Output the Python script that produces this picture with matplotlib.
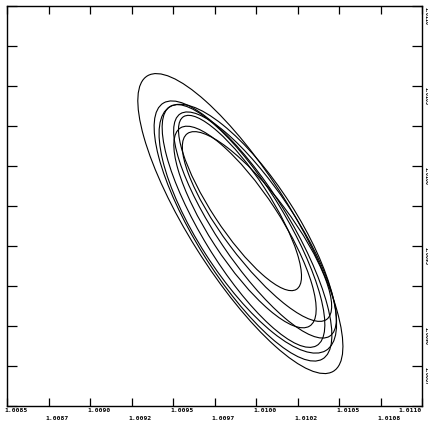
import matplotlib
matplotlib.use("Agg")
import matplotlib.pyplot as plt
from matplotlib.patches import Ellipse

# axis ticks / labels
x_ticks = [1.0085, 1.00875, 1.0090, 1.00925, 1.0095, 1.00975, 1.0100, 1.01025, 1.0105, 1.01075, 1.0110]
x_labels = ["1.0085", "1.0087", "1.0090", "1.0092", "1.0095", "1.0097", "1.0100", "1.0102", "1.0105", "1.0108", "1.0110"]
y_ticks = [1.0085, 1.00875, 1.0090, 1.00925, 1.0095, 1.00975, 1.0100, 1.01025, 1.0105, 1.01075, 1.0110]
y_label_ticks = [1.0110, 1.0105, 1.0100, 1.0095, 1.0090, 1.00875]
y_labels = ["1.0110", "1.0105", "1.0100", "1.0095", "1.0090", "1.0087"]

# loops of the trajectory (centre x, centre y, full width, full height, tilt in degrees)
loop_cx = [1.0099050, 1.0099028, 1.0099209, 1.0099239, 1.0099932, 1.0099330, 1.0100053, 1.0099500]
loop_cy = [1.0096420, 1.0097706, 1.0095956, 1.0096269, 1.0096331, 1.0096206, 1.0096237, 1.0096100]
loop_w = [0.002160, 0.001276, 0.001865, 0.001736, 0.001656, 0.001463, 0.001433, 0.001790]
loop_h = [0.000615, 0.000350, 0.000560, 0.000500, 0.000466, 0.000429, 0.000405, 0.000600]
loop_ang = [-58.8, -57.8, -59.1, -59.5, -57.1, -57.9, -54.2, -58.3]

fig = plt.figure(figsize=(4.28, 4.21), dpi=100)
W, H = 428, 421
L, R, T, B = 7.3, 422.0, 6.3, 406.3
ax = fig.add_axes([L / W, (H - B) / H, (R - L) / W, (B - T) / H])
ax.set_xlim(1.0085, 1.0110)
ax.set_ylim(1.0085, 1.0110)

for cx, cy, w, h, a in zip(loop_cx, loop_cy, loop_w, loop_h, loop_ang):
    ax.add_patch(Ellipse((cx, cy), w, h, angle=a, fill=False,
                         edgecolor="black", linewidth=0.8))

ax.set_xticks(x_ticks)
ax.set_yticks(y_ticks)
ax.set_xticklabels([])
ax.set_yticklabels([])
ax.tick_params(axis="x", direction="in", length=5.8, width=0.9, top=True, bottom=True)
ax.tick_params(axis="y", direction="in", length=7.0, width=0.9, left=True, right=True)
for s in ax.spines.values():
    s.set_linewidth(1.0)

lab_kw = dict(fontsize=4.6, family="DejaVu Sans Mono", fontweight="bold", color="black")
for i, (t, lab) in enumerate(zip(x_ticks, x_labels)):
    dy = -1.4 if i % 2 == 0 else -7.0
    if i == len(x_ticks) - 1:
        ax.annotate(lab, xy=(t, 0), xycoords=("data", "axes fraction"),
                    xytext=(0, dy), textcoords="offset points",
                    ha="right", va="top", **lab_kw)
    else:
        ax.annotate(lab, xy=(t, 0), xycoords=("data", "axes fraction"),
                    xytext=(-2.2, dy), textcoords="offset points",
                    ha="left", va="top", **lab_kw)

for t, lab in zip(y_label_ticks, y_labels):
    ax.annotate(lab, xy=(1, t), xycoords=("axes fraction", "data"),
                xytext=(2.6, -0.5), textcoords="offset points",
                rotation=-90, rotation_mode="anchor",
                ha="left", va="center", fontsize=3.6, fontweight="bold",
                family="DejaVu Sans Mono", color="black")

fig.savefig("out.png", dpi=100)
